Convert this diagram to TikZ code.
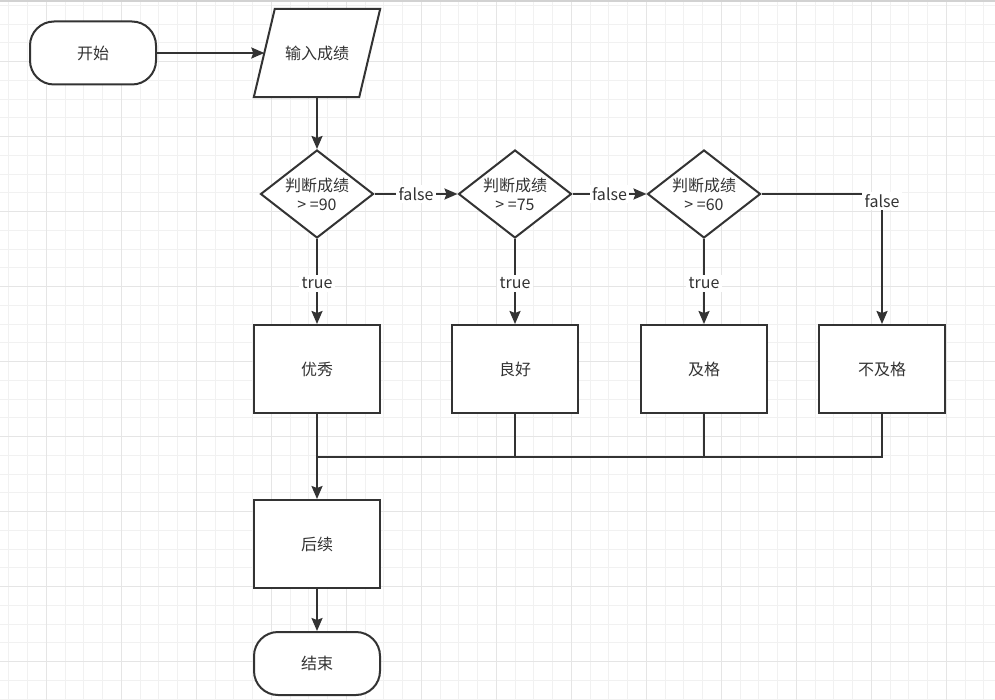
\documentclass[tikz,border=0pt]{standalone}
\usepackage{fontspec}
\setmainfont{Noto Sans CJK SC}
\usetikzlibrary{arrows.meta,shapes.geometric}
\newcommand{\GS}{18.75}
\newcommand{\GX}{8.8}
\newcommand{\GY}{5.45}
\newcommand{\SL}{10.5}
\definecolor{fcline}{HTML}{333333}
\definecolor{fcgrid}{HTML}{F1F1F1}
\definecolor{fcgridmaj}{HTML}{E5E5E5}
\definecolor{fctop}{HTML}{D2D2D2}

\begin{document}
\begin{tikzpicture}[
    x=1pt, y=-1pt,
    >={Stealth[length=13pt, width=11pt, inset=2pt]},
    font=\fontsize{16}{19}\selectfont,
    flow/.style={draw=fcline, line width=2pt},
    term/.style={rectangle, rounded corners=24pt, draw=fcline, fill=white, text=fcline, line width=2pt, minimum width=126pt, minimum height=63pt},
    io/.style={rectangle, text=fcline, minimum width=105pt, minimum height=88pt},
    dec/.style={diamond, aspect=1.28, draw=fcline, fill=white, text=fcline, line width=2pt, minimum width=113pt, minimum height=88pt, inner sep=0pt, align=center},
    proc/.style={rectangle, draw=fcline, fill=white, text=fcline, line width=2pt, minimum width=126pt, minimum height=88pt},
    lbl/.style={fill=white, text=fcline, inner sep=2.5pt},
  ]

  %% canvas and grid paper
  \fill[white] (0,0) rectangle (995,700);
  \useasboundingbox (0,0) rectangle (995,700);
  \foreach \i in {0,...,52} { \draw[fcgrid, line width=1pt] ({\GX+\i*\GS},0) -- ({\GX+\i*\GS},700); }
  \foreach \j in {0,...,37} { \draw[fcgrid, line width=1pt] (0,{\GY+\j*\GS}) -- (995,{\GY+\j*\GS}); }
  \foreach \i in {0,...,12} { \draw[fcgridmaj, line width=1pt] ({46.3+\i*75},0) -- ({46.3+\i*75},700); }
  \foreach \j in {0,...,8} { \draw[fcgridmaj, line width=1pt] (0,{61.7+\j*75}) -- (995,{61.7+\j*75}); }
  \draw[fctop, line width=1.5pt] (0,1) -- (995,1);

  %% start and input
  \node[term] (start) at (93,53) {开始};
  \node[io] (input) at (317,53) {};
  % slanted outline round the input node
  \filldraw[flow, fill=white] ([xshift=-\SL pt]input.south west) -- ([xshift=\SL pt]input.north west)
    -- ([xshift=\SL pt]input.north east) -- ([xshift=-\SL pt]input.south east) -- cycle;
  \node[text=fcline] at (input) {输入成绩};

  %% one column per grade: test and result
  \foreach \i/\xx/\lim/\res in {1/317/90/优秀, 2/515/75/良好, 3/704/60/及格} {
    \node[dec] (d\i) at (\xx,194) {判断成绩\\> =\lim};
    \node[proc] (b\i) at (\xx,369) {\res};
  }
  \node[proc] (b4) at (882,369) {不及格};

  \node[proc] (next) at (317,544) {后续};
  \node[term] (stop) at (317,663.5) {结束};

  %% connectors
  \draw[flow, ->] (start) -- (input);
  \draw[flow, ->] (input) -- (d1);
  \foreach \i/\j in {1/2, 2/3} { \draw[flow, ->] (d\i) -- node[lbl] {false} (d\j); }
  \foreach \i in {1,2,3} { \draw[flow, ->] (d\i) -- node[lbl, yshift=-2pt] {true} (b\i); }
  \draw[flow, ->] (d3) -| node[lbl, pos=0.5, yshift=-7pt] {false} (b4);

  % results meet on one line above the next step
  \coordinate (join) at (317,457);
  \foreach \i in {2,3,4} { \draw[flow] (b\i.south) |- (join); }
  \draw[flow, ->] (b1) -- (next);
  \draw[flow, ->] (next) -- (stop);

\end{tikzpicture}
\end{document}
